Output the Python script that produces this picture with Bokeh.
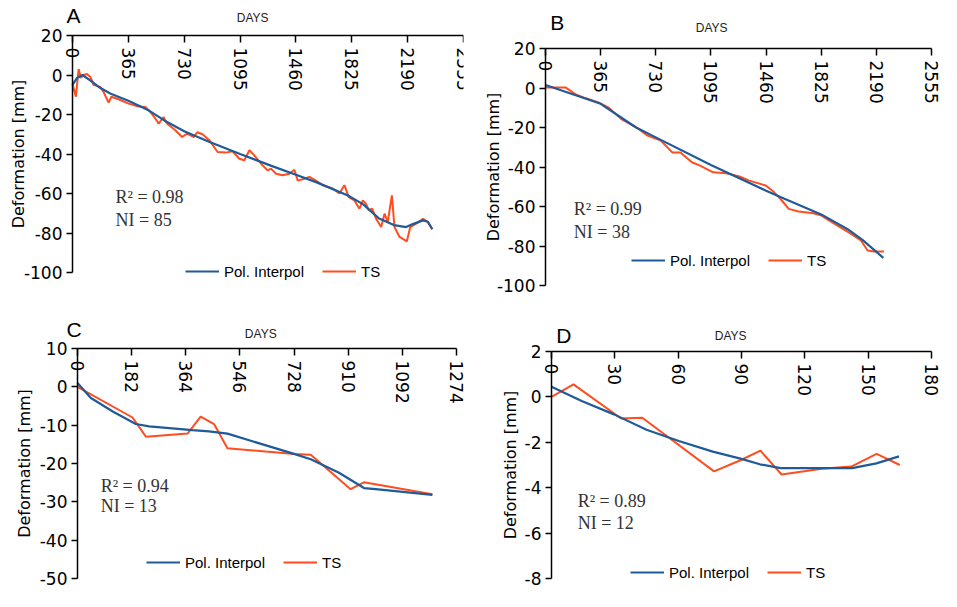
import math
from bokeh.plotting import figure
from bokeh.models import (Range1d, LinearAxis, FixedTicker, Label, Legend, LegendItem,
                          PrintfTickFormatter)
from bokeh.layouts import column, row
from bokeh.embed import file_html
from bokeh.resources import INLINE

# ---------------- data ----------------
a_ts_days = [0, 22, 40, 55, 72, 94, 117, 137, 180, 202, 236, 254, 301, 367, 432, 476, 508, 541,
             563, 595, 617, 672, 716, 749, 793, 815, 850, 894, 948, 1003, 1046, 1090, 1123, 1156,
             1188, 1232, 1275, 1297, 1330, 1373, 1417, 1450, 1472, 1515, 1548, 1591, 1635, 1700,
             1744, 1777, 1805, 1842, 1875, 1897, 1918, 1936, 1958, 1984, 2017, 2039, 2060, 2087,
             2104, 2137, 2185, 2207, 2246, 2290, 2322, 2351]
a_ts_vals = [-4.5, -11, 3, -1.5, 0, 0.5, -1, -5, -6, -8.5, -14, -11, -12.3, -14.5, -16, -16.2,
             -18.7, -22, -24.6, -21.3, -24.6, -28, -31.4, -29.7, -31.4, -29, -30, -33, -39, -39.3,
             -38.6, -42.4, -43.2, -38.1, -40.7, -44.9, -48.3, -47.4, -50, -50.8, -50, -48, -53.5,
             -52.5, -51.6, -53.5, -55.8, -57.5, -60, -55.8, -61.8, -63.5, -67.7, -63.5, -65.2,
             -68.5, -67.7, -72.8, -77, -70.2, -74.5, -60.9, -77, -82, -84.2, -77, -75.3, -72.8,
             -74.5, -78.2]
a_fit_days = [0, 30, 65, 120, 180, 250, 365, 500, 600, 730, 900, 1095, 1300, 1460, 1600, 1800,
              1900, 2000, 2100, 2180, 2224, 2290, 2322, 2351]
a_fit_vals = [-5, -1.5, 0, -3, -6.5, -9.5, -13, -18, -23, -28.5, -34, -40, -46, -50.5, -54.5,
              -61, -65.5, -72.5, -76, -77, -75.5, -73.6, -74.3, -78]

b_ts_days = [0, 132, 197, 263, 350, 415, 502, 600, 676, 763, 839, 893, 969, 1023, 1110, 1197,
             1284, 1349, 1458, 1512, 1556, 1610, 1675, 1773, 1827, 1914, 2023, 2088, 2132, 2175,
             2240]
b_ts_vals = [0.3, 0.3, -3.1, -5.1, -7.3, -9.8, -15.7, -19.9, -24.1, -26.6, -32.6, -32.6, -37.6,
             -39.3, -42.7, -43.2, -44.8, -46.9, -49.4, -52.7, -56.2, -61.2, -62.5, -63.4, -64.6,
             -68.8, -73.9, -77.2, -82.3, -82.8, -82.8]
b_fit_days = [0, 365, 600, 730, 1095, 1460, 1578, 1825, 2000, 2100, 2236]
b_fit_vals = [1.5, -8, -20, -25, -39, -52, -56, -64, -71.5, -77, -86]

c_ts_days = [0, 185, 230, 370, 414, 459, 504, 633, 728, 784, 918, 963, 1193]
c_ts_vals = [0, -8, -13, -12.2, -7.8, -9.7, -16, -16.9, -17.5, -17.7, -26.7, -24.9, -28]
c_fit_days = [0, 45, 120, 196, 241, 386, 442, 504, 588, 728, 784, 879, 963, 1002, 1193]
c_fit_vals = [1, -2.9, -6.5, -9.7, -10.3, -11.3, -11.6, -12.2, -14.2, -17.5, -18.9, -22.4,
              -26.4, -26.7, -28.2]

d_ts_days = [0, 10.4, 33, 43, 77, 89.5, 99, 109, 128, 142, 154, 165]
d_ts_vals = [0, 0.55, -0.95, -0.92, -3.28, -2.79, -2.37, -3.42, -3.17, -3.07, -2.51, -3.0]
d_fit_days = [0, 14.3, 29.6, 45, 60.3, 76.4, 89.5, 98.7, 108.6, 127.8, 142.4, 153.9, 164.6]
d_fit_vals = [0.45, -0.18, -0.77, -1.45, -1.94, -2.41, -2.72, -2.97, -3.14, -3.14, -3.14,
              -2.93, -2.62]

ab_xticks = [0, 365, 730, 1095, 1460, 1825, 2190, 2555]
c_xticks = [0, 182, 364, 546, 728, 910, 1092, 1274]
d_xticks = [0, 30, 60, 90, 120, 150, 180]
ab_yticks = [20, 0, -20, -40, -60, -80, -100]
c_yticks = [10, 0, -10, -20, -30, -40, -50]
d_yticks = [2, 0, -2, -4, -6, -8]

r2_texts = ["R\u00b2 = 0.98", "R\u00b2 = 0.99", "R\u00b2 = 0.94", "R\u00b2 = 0.89"]
ni_texts = ["NI = 85", "NI = 38", "NI = 13", "NI = 12"]
letters = ["A", "B", "C", "D"]
legend_labels = ["Pol. Interpol", "TS"]
x_title = "DAYS"
y_title = "Deformation [mm]"

BLUE = "#1F5A99"
ORANGE = "#FF4D1F"
SANS = "DejaVu Sans"
ARIAL = "Liberation Sans"
SERIF = "Liberation Serif"


def panel(letter, ts_d, ts_v, fit_d, fit_v, xticks, yticks, rect, right, xmap, ymap,
          ylabel_standoff, letter_pos, days_pos, r2_text, ni_text, r2_pos, ni_y, legend_loc):
    # rect: page rectangle of the canvas (x0, y0, x1, y1)
    # xmap: page x of first and last x tick; ymap: page y of top and bottom y tick
    X0, Y0, X1, Y1 = rect
    fx1 = X1 - right
    ppx = (xmap[1] - xmap[0]) / (xticks[-1] - xticks[0])
    ppy = (ymap[1] - ymap[0]) / (yticks[0] - yticks[-1])
    x_start = xticks[0] - (xmap[0] - X0) / ppx
    x_end = xticks[-1] + (fx1 - xmap[1]) / ppx
    y_end = yticks[0] + (ymap[0] - Y0) / ppy
    y_start = yticks[-1] - (Y1 - ymap[1]) / ppy

    p = figure(width=X1 - X0, height=Y1 - Y0,
               x_range=Range1d(x_start, x_end), y_range=Range1d(y_start, y_end),
               x_axis_location=None, toolbar_location=None, output_backend="svg",
               min_border_left=0, min_border_right=right, min_border_top=0,
               min_border_bottom=0)
    p.frame_align = False
    p.outline_line_color = None
    p.grid.visible = False
    p.background_fill_color = "white"
    p.border_fill_color = "white"

    ya = p.yaxis[0]
    ya.fixed_location = xticks[0]
    ya.ticker = FixedTicker(ticks=yticks)
    ya.formatter = PrintfTickFormatter(format="%d")
    ya.bounds = (yticks[-1], yticks[0])
    ya.minor_tick_line_color = None
    ya.major_tick_in = 0
    ya.major_tick_out = 6
    ya.major_label_standoff = 4
    ya.major_label_text_font = SANS
    ya.major_label_text_font_size = "17px"
    ya.major_label_text_color = "black"
    ya.axis_line_width = 1.5
    ya.major_tick_line_width = 1.5
    ya.axis_label = y_title
    ya.axis_label_text_font = SANS
    ya.axis_label_text_font_size = "16px"
    ya.axis_label_text_font_style = "normal"
    ya.axis_label_text_color = "black"
    ya.axis_label_standoff = ylabel_standoff

    xa = LinearAxis(ticker=FixedTicker(ticks=xticks), fixed_location=yticks[0],
                    bounds=(xticks[0], xticks[-1]),
                    major_label_orientation=-math.pi / 2, major_tick_out=7, major_tick_in=0,
                    minor_tick_line_color=None, major_label_standoff=5, axis_line_width=1.5,
                    major_tick_line_width=1.5, major_label_text_font=SANS,
                    major_label_text_font_size="17px", major_label_text_color="black")
    p.add_layout(xa, "below")

    r_ts = p.line(ts_d, ts_v, line_color=ORANGE, line_width=2)
    r_fit = p.line(fit_d, fit_v, line_color=BLUE, line_width=2.2)

    legend = Legend(items=[LegendItem(label=legend_labels[0], renderers=[r_fit]),
                           LegendItem(label=legend_labels[1], renderers=[r_ts])],
                    location=legend_loc, orientation="horizontal",
                    background_fill_alpha=0, border_line_color=None, padding=0, margin=0,
                    spacing=18, label_standoff=5, glyph_width=34, glyph_height=20,
                    label_height=20, label_text_font=ARIAL, label_text_font_size="15px",
                    label_text_color="black")
    p.add_layout(legend)

    p.add_layout(Label(x=letter_pos[0], y=letter_pos[1], text=letter, text_font=ARIAL,
                       text_font_size="21px", text_align="left", text_baseline="middle",
                       text_color="black"))
    p.add_layout(Label(x=days_pos[0], y=days_pos[1], text=x_title, text_font=ARIAL,
                       text_font_size="12px", text_align="center", text_baseline="middle",
                       text_color="#222222"))
    p.add_layout(Label(x=r2_pos[0], y=r2_pos[1], text=r2_text, text_font=SERIF,
                       text_font_size="18px", text_align="left", text_baseline="middle",
                       text_color="#333333"))
    p.add_layout(Label(x=r2_pos[0], y=ni_y, text=ni_text, text_font=SERIF,
                       text_font_size="18px", text_align="left", text_baseline="middle",
                       text_color="#333333"))
    return p


pa = panel(letters[0], a_ts_days, a_ts_vals, a_fit_days, a_fit_vals, ab_xticks, ab_yticks,
           (8, 8, 480, 310), 9, (80, 471), (43, 280), -7, (-39, 30.1), (1177, 29.1),
           r2_texts[0], ni_texts[0], (281, -61.8), -73.4, (185, 21))
pb = panel(letters[1], b_ts_days, b_ts_vals, b_fit_days, b_fit_vals, ab_xticks, ab_yticks,
           (480, 8, 949, 310), 0, (553, 939), (56, 293), -9, (31, 33.1), (1100, 30.6),
           r2_texts[1], ni_texts[1], (187, -61.2), -73, (159, 32))
pc = panel(letters[2], c_ts_days, c_ts_vals, c_fit_days, c_fit_vals, c_xticks, c_yticks,
           (8, 310, 480, 599), 0, (85, 464), (356, 586), 3, (-37, 14.85), (616, 13.9),
           r2_texts[2], ni_texts[2], (78, -25.8), -31.2, (146, 19))
pd_ = panel(letters[3], d_ts_days, d_ts_vals, d_fit_days, d_fit_vals, d_xticks, d_yticks,
            (480, 310, 949, 599), 0, (559, 939), (359, 586), 2, (2.3, 2.72), (84.9, 2.68),
            r2_texts[3], ni_texts[3], (12.4, -4.58), -5.56, (158, 9))

layout = column(row(pa, pb), row(pc, pd_))
open("out.html", "w").write(file_html(layout, INLINE))
